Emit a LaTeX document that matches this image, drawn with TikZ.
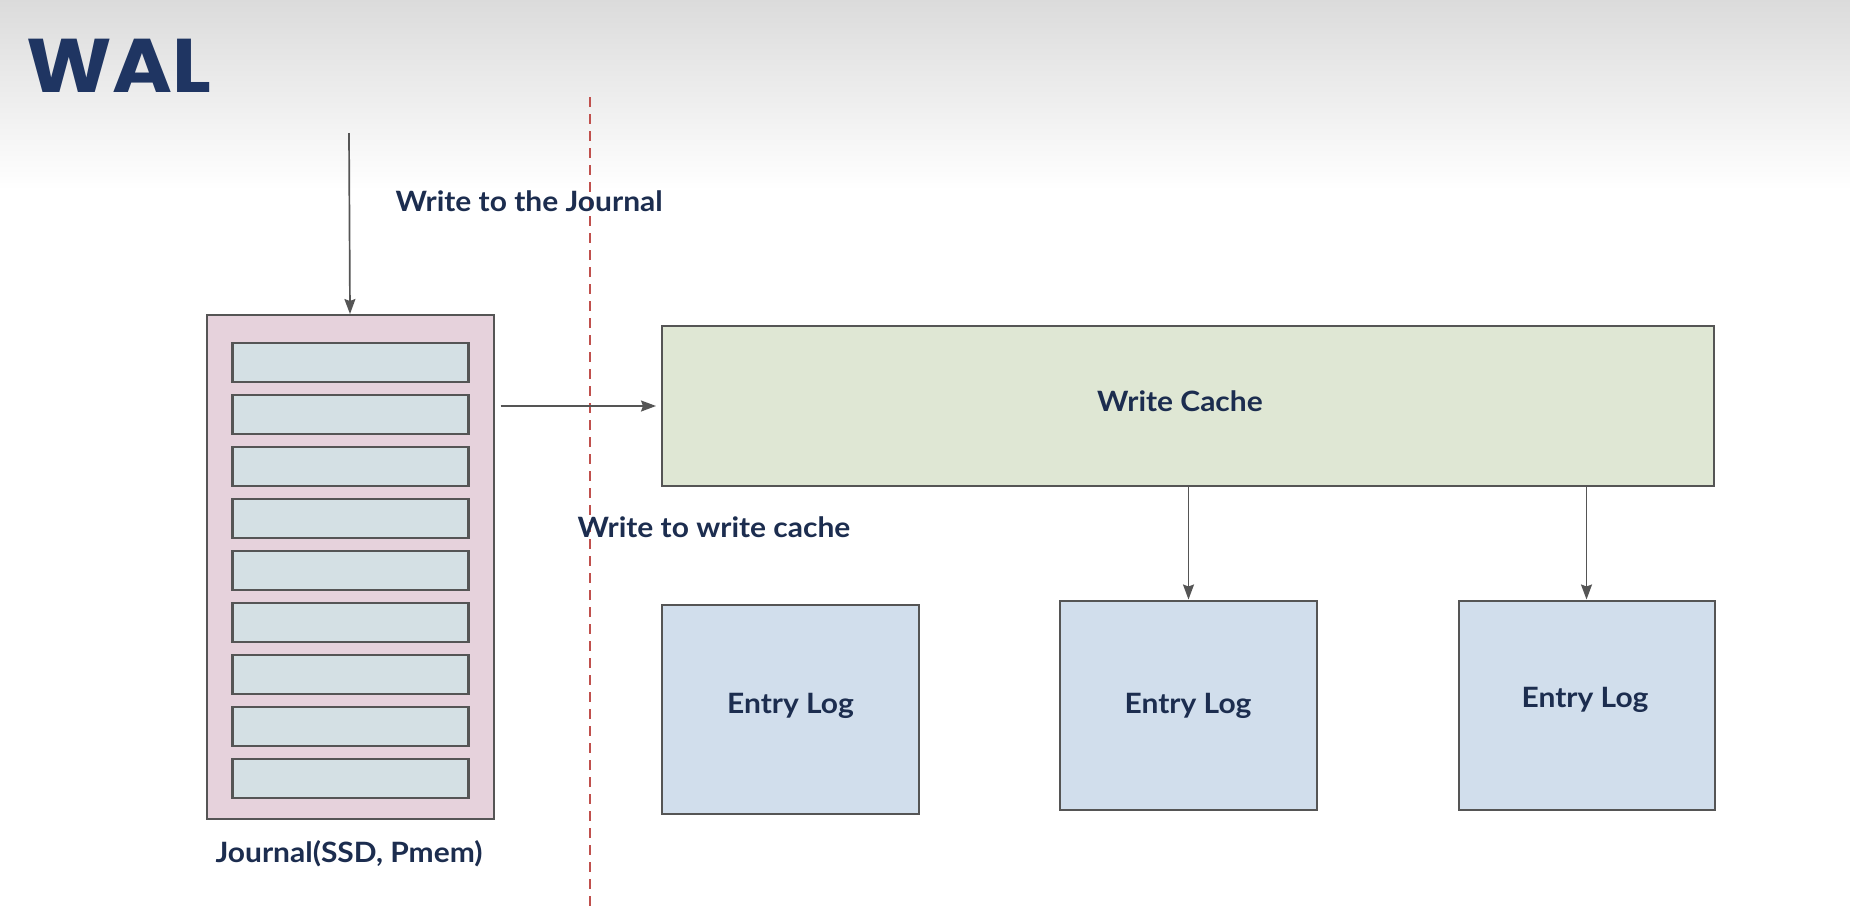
\documentclass[tikz,border=0pt]{standalone}
\usepackage{fontspec}
\usepackage{graphicx}
\setmainfont{Lato}
\newfontfamily\titlefont{Poppins}
\usetikzlibrary{arrows.meta}
\definecolor{navy}{HTML}{1C2D4F}
\definecolor{titleblue}{HTML}{1F3562}
\definecolor{edge}{HTML}{555555}
\definecolor{journalpink}{HTML}{E6D2DC}
\definecolor{barblue}{HTML}{D4E0E4}
\definecolor{cachegreen}{HTML}{DFE7D4}
\definecolor{logblue}{HTML}{D1DEEC}
\definecolor{splitred}{HTML}{C0504D}
\newcommand{\wide}[1]{\scalebox{1.07}[1]{#1}}
\begin{document}
\begin{tikzpicture}[x=1pt,y=-1pt,>={Stealth[length=15pt,width=11pt,inset=2pt]},
  box/.style={draw=edge,line width=2pt,inner sep=0pt},
  bar/.style={box,fill=barblue,line width=2.4pt,minimum width=236pt,minimum height=39pt},
  logbox/.style={box,fill=logblue,minimum width=257pt,minimum height=209pt},
  lbl/.style={text=navy,font=\fontsize{28}{32}\selectfont\bfseries},
  link/.style={draw=edge,line width=1.7pt,->}]
\useasboundingbox (0,0) rectangle (1850,911);
% background
\fill[white] (0,0) rectangle (1850,911);
\shade[top color=black!14,bottom color=white] (0,0) rectangle (1850,190);
\node[anchor=base west,text=titleblue,font=\fontsize{76}{80}\titlefont\bfseries] (title) at (23,92) {\scalebox{1.07}[1]{WAL}};

% journal with its slots
\node[box,fill=journalpink,minimum width=287pt,minimum height=504pt] (journal) at (350,567) {};
\foreach \i in {1,...,9}
  \node[bar] (bar\i) at (350.5,{362.5+(\i-1)*52}) {};
\node[lbl] (jname) at (349,854) {\wide{Journal(SSD, Pmem)}};

% cache and entry logs
\node[box,fill=cachegreen,minimum width=1052pt,minimum height=160pt] (cache) at (1188,406) {};
\node[lbl] at (1180,401) {\wide{Write Cache}};
\node[logbox] (log1) at (790.5,709.5) {};
\node[logbox] (log2) at (1188.5,705) {};
\node[logbox,minimum width=256pt] (log3) at (1586.5,705) {};
\node[lbl] at (790.5,706) {\wide{Entry Log}};
\node[lbl] at (1188,706) {\wide{Entry Log}};
\node[lbl] at (1585,700) {\wide{Entry Log}};

% split line
\coordinate (splittop) at (590,97);
\coordinate (splitbot) at (590,911);
\draw[splitred,line width=1.4pt,dash pattern=on 10pt off 7pt] (splittop) -- (splitbot);

% arrows
\coordinate (in) at (349,133);
\draw[link] (in) -- (journal.north);
\node[lbl,anchor=west] (wj) at (392,201) {\wide{Write to the Journal}};
\draw[link,shorten <=6pt,shorten >=5pt] (journal.east |- cache.west) -- (cache.west);
\node[lbl,anchor=west] (wc) at (574,527) {\wide{Write to write cache}};
\draw[link] (cache.south -| log2.north) -- (log2.north);
\draw[link] (cache.south -| log3.north) -- (log3.north);
\end{tikzpicture}
\end{document}
